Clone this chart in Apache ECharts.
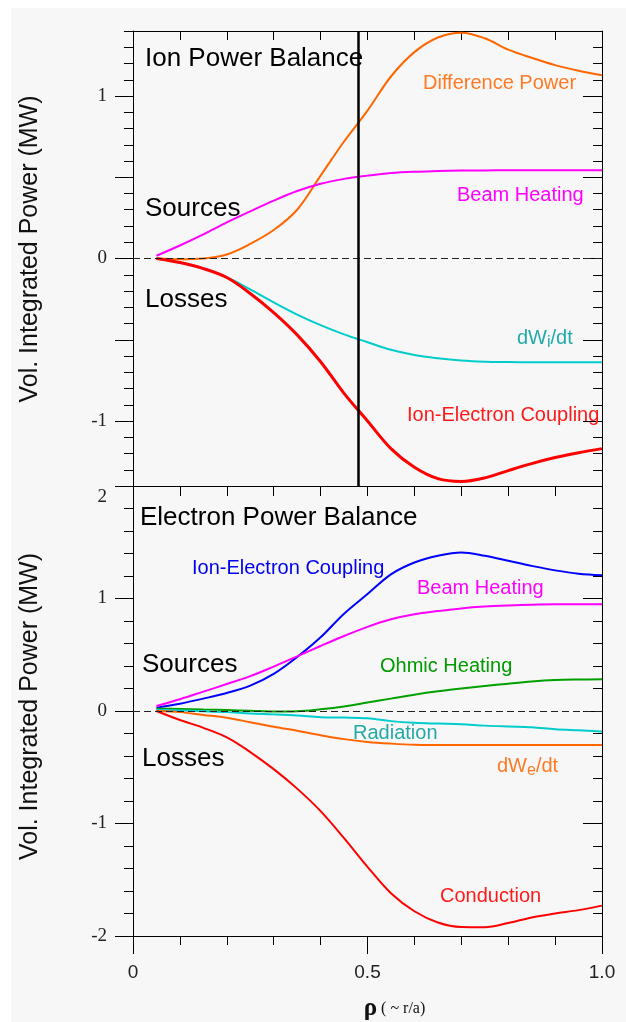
<!DOCTYPE html>
<html>
<head>
<meta charset="utf-8">
<title>Ion / Electron Power Balance</title>
<script src="https://cdn.jsdelivr.net/npm/echarts@6/dist/echarts.min.js"></script>
<style>
html, body { margin: 0; padding: 0; background: #fff; }
#chart {
  width: 626px;
  height: 1022px;
  background:
    linear-gradient(#fff, #fff) top left / 100% 8px no-repeat,
    linear-gradient(#fff, #fff) top left / 11px 100% no-repeat,
    #f7f7f7;
}
</style>
</head>
<body>
<div id="chart"></div>
<script>
// normalised radius, shared by every curve
const rho = [0.05, 0.1, 0.15, 0.2, 0.25, 0.3, 0.35, 0.4, 0.45, 0.5,
  0.55, 0.6, 0.65, 0.7, 0.75, 0.8, 0.85, 0.9, 0.95, 1.0];

// ion power balance (MW)
const ionDifference = [0, -0.005, 0, 0.025, 0.09, 0.175, 0.3, 0.51, 0.72, 0.91,
  1.12, 1.27, 1.36, 1.39, 1.355, 1.285, 1.235, 1.19, 1.156, 1.128];
const ionBeam = [0.017, 0.08, 0.148, 0.222, 0.29, 0.356, 0.415, 0.46, 0.49, 0.51,
  0.526, 0.534, 0.538, 0.541, 0.542, 0.543, 0.543, 0.543, 0.543, 0.543];
const ionDWdt = [0, -0.025, -0.06, -0.115, -0.19, -0.27, -0.345, -0.41, -0.467, -0.515,
  -0.562, -0.594, -0.614, -0.628, -0.635, -0.637, -0.638, -0.638, -0.638, -0.638];
const ionCoupling = [0, -0.025, -0.062, -0.117, -0.215, -0.333, -0.47, -0.635, -0.83, -1.0,
  -1.17, -1.285, -1.355, -1.372, -1.35, -1.305, -1.262, -1.225, -1.195, -1.17];

// electron power balance (MW)
const eleCoupling = [0.03, 0.065, 0.11, 0.16, 0.225, 0.33, 0.48, 0.655, 0.865, 1.04,
  1.215, 1.32, 1.38, 1.41, 1.38, 1.335, 1.29, 1.25, 1.22, 1.206];
const eleBeam = [0.044, 0.105, 0.172, 0.24, 0.31, 0.395, 0.485, 0.578, 0.667, 0.748,
  0.815, 0.86, 0.888, 0.912, 0.928, 0.938, 0.945, 0.948, 0.948, 0.948];
const eleOhmic = [0.02, 0.018, 0.013, 0.008, 0.002, -0.005, -0.002, 0.015, 0.04, 0.075,
  0.11, 0.145, 0.175, 0.2, 0.222, 0.243, 0.262, 0.275, 0.28, 0.282];
const eleRadiation = [0.01, 0.005, -0.002, -0.01, -0.022, -0.03, -0.04, -0.055, -0.058, -0.065,
  -0.09, -0.105, -0.112, -0.118, -0.13, -0.138, -0.145, -0.162, -0.172, -0.182];
const eleDWdt = [0, -0.01, -0.035, -0.06, -0.1, -0.14, -0.175, -0.215, -0.25, -0.275,
  -0.29, -0.3, -0.302, -0.303, -0.303, -0.303, -0.303, -0.303, -0.303, -0.303];
const eleConduction = [0, -0.08, -0.15, -0.235, -0.365, -0.517, -0.69, -0.89, -1.13, -1.385,
  -1.62, -1.78, -1.88, -1.92, -1.922, -1.885, -1.835, -1.8, -1.77, -1.73];

// ticks and labels
const xLabelText = { 0: '0', 0.5: '0.5', 1: '1.0' };
const ionMajorTicks = [-1, -0.5, 0, 0.5, 1];
const ionTickLabels = [-1, 0, 1];
const cursorRho = 0.482;

const SANS = 'Liberation Sans, Arial, sans-serif';
const SERIF = 'Liberation Serif, Times New Roman, serif';

const pairs = (vals) => rho.map((r, i) => [r, vals[i]]);

const black = { color: '#000', width: 1 };
const hidden = { show: false };

// 轴的通用部分
const baseAxis = (extra) => Object.assign({
  type: 'value',
  axisLine: { show: true, onZero: false, lineStyle: black },
  axisTick: hidden,
  minorTick: hidden,
  axisLabel: hidden,
  splitLine: hidden,
  minorSplitLine: hidden
}, extra);

const xAxes = [
  // top panel, bottom edge (series axis)
  baseAxis({ gridIndex: 0, position: 'bottom', min: 0, max: 1 }),
  // top panel, top edge
  baseAxis({ gridIndex: 0, position: 'top', min: 0, max: 1, interval: 0.1,
    axisTick: { show: true, inside: true, length: 9, lineStyle: black } }),
  // bottom panel, bottom edge (series axis)
  baseAxis({ gridIndex: 1, position: 'bottom', min: 0, max: 1, interval: 0.5,
    axisTick: { show: true, length: 18, lineStyle: black },
    minorTick: { show: true, splitNumber: 5, length: 9, lineStyle: black },
    axisLabel: {
      show: true, margin: 27, color: '#222', fontFamily: SANS, fontSize: 19,
      formatter: (v) => xLabelText[v] !== undefined ? xLabelText[v] : ''
    },
    name: '{r|ρ}{t| ( ~ r/a)}',
    nameLocation: 'middle',
    nameGap: 60,
    nameTextStyle: {
      padding: [0, 0, 0, 54],
      rich: {
        r: { fontFamily: SERIF, fontSize: 25, fontWeight: 'bold', color: '#111' },
        t: { fontFamily: SERIF, fontSize: 16, color: '#111' }
      }
    }
  }),
  // bottom panel, top edge
  baseAxis({ gridIndex: 1, position: 'top', min: 0, max: 1, interval: 0.1,
    axisTick: { show: true, inside: true, length: 10, lineStyle: black } })
];

const yName = (shift) => ({
  name: 'Vol. Integrated Power (MW)',
  nameLocation: 'middle',
  nameGap: 90,
  nameTextStyle: { fontFamily: SANS, fontSize: 25, color: '#111', padding: [0, 0, 0, shift] }
});

const yAxes = [
  // 0: top panel left, short ticks, series axis
  baseAxis(Object.assign({ gridIndex: 0, position: 'left', min: -1.4, max: 1.4, interval: 0.1,
    axisTick: { show: true, length: 9, lineStyle: black } }, yName(19))),
  // 1: top panel left, long ticks + labels
  baseAxis({ gridIndex: 0, position: 'left', min: -1.4, max: 1.4,
    axisLine: { show: false, onZero: false },
    axisTick: { show: true, length: 18, lineStyle: black, customValues: ionMajorTicks },
    axisLabel: { show: true, margin: 26, color: '#222', fontFamily: SERIF, fontSize: 19,
      customValues: ionTickLabels } }),
  // 2: top panel right, short ticks
  baseAxis({ gridIndex: 0, position: 'right', min: -1.4, max: 1.4, interval: 0.1,
    axisTick: { show: true, inside: true, length: 9, lineStyle: black } }),
  // 3: top panel right, long ticks
  baseAxis({ gridIndex: 0, position: 'right', min: -1.4, max: 1.4,
    axisLine: { show: false, onZero: false },
    axisTick: { show: true, inside: true, length: 19, lineStyle: black, customValues: ionMajorTicks } }),
  // 4: bottom panel left, series axis
  baseAxis(Object.assign({ gridIndex: 1, position: 'left', min: -2, max: 2, interval: 1,
    axisTick: { show: true, length: 18, lineStyle: black },
    minorTick: { show: true, splitNumber: 5, length: 9, lineStyle: black },
    axisLabel: { show: true, margin: 26, color: '#222', fontFamily: SERIF, fontSize: 19,
      formatter: (v) => v === 2 ? '{low|2}' : String(v),
      rich: { low: { padding: [22, 0, 0, 0], fontFamily: SERIF, fontSize: 19, color: '#222' } } }
  }, yName(9))),
  // 5: bottom panel right
  baseAxis({ gridIndex: 1, position: 'right', min: -2, max: 2, interval: 1,
    axisTick: { show: true, inside: true, length: 19, lineStyle: black },
    minorTick: { show: true, splitNumber: 5, length: 9, lineStyle: black } })
];

const line = (name, vals, color, width, xi, yi, extra) => Object.assign({
  name: name,
  type: 'line',
  xAxisIndex: xi,
  yAxisIndex: yi,
  data: pairs(vals),
  smooth: 0.35,
  showSymbol: false,
  symbol: 'none',
  lineStyle: { color: color, width: width },
  itemStyle: { color: color },
  z: 3
}, extra);

const zeroLine = { yAxis: 0, lineStyle: { color: '#222', width: 1, type: [7, 4] } };
const markBase = { silent: true, symbol: 'none', label: hidden, animation: false };

const series = [
  line('Difference Power', ionDifference, '#ff6600', 2, 0, 0, {
    markLine: Object.assign({}, markBase, {
      data: [zeroLine, { xAxis: cursorRho, lineStyle: { color: '#000', width: 2.5, type: 'solid' } }]
    })
  }),
  line('Beam Heating', ionBeam, '#ff00ff', 2, 0, 0),
  line('dWi/dt', ionDWdt, '#00cccc', 2, 0, 0),
  line('Ion-Electron Coupling', ionCoupling, '#ff0000', 3, 0, 0),

  line('Ion-Electron Coupling', eleCoupling, '#0000ff', 2, 2, 4, {
    markLine: Object.assign({}, markBase, { data: [zeroLine] })
  }),
  line('Beam Heating', eleBeam, '#ff00ff', 2, 2, 4),
  line('Ohmic Heating', eleOhmic, '#00a000', 2, 2, 4),
  line('Radiation', eleRadiation, '#00cccc', 2, 2, 4),
  line('dWe/dt', eleDWdt, '#ff6600', 2, 2, 4),
  line('Conduction', eleConduction, '#ff0000', 2, 2, 4)
];

// 图中的文字标注
const note = (text, x, y, color, size, rich) => ({
  type: 'text',
  x: x,
  y: y,
  silent: true,
  z: 10,
  style: {
    text: text,
    fill: color,
    font: size + 'px ' + SANS,
    align: 'left',
    verticalAlign: 'middle',
    rich: rich
  }
});

const subRich = (color) => ({
  n: { fontSize: 20, fontFamily: SANS, color: color },
  s: { fontSize: 16, fontFamily: SANS, color: color, padding: [9, 0, 0, 0] }
});

const graphic = [
  note('Ion Power Balance', 145, 59, '#000', 26),
  note('Difference Power', 423, 83, '#ff7a22', 20),
  note('Beam Heating', 457, 195, '#ff00ff', 20),
  note('Sources', 145, 209, '#000', 26),
  note('Losses', 145, 300, '#000', 26),
  note('{n|dW}{s|i}{n|/dt}', 517, 338, '#22aaaa', 20, subRich('#22aaaa')),
  note('Ion-Electron Coupling', 407, 415, '#ff1a1a', 20),

  note('Electron Power Balance', 140, 518, '#000', 26),
  note('Ion-Electron Coupling', 192, 568, '#0000ee', 20),
  note('Beam Heating', 417, 588, '#ff00ff', 20),
  note('Sources', 142, 665, '#000', 26),
  note('Ohmic Heating', 380, 666, '#009900', 20),
  note('Radiation', 353, 733, '#22aaaa', 20),
  note('Losses', 142, 759, '#000', 26),
  note('{n|dW}{s|e}{n|/dt}', 497, 766, '#ff7a22', 20, subRich('#ff7a22')),
  note('Conduction', 440, 896, '#ff1a1a', 20)
];

const chart = echarts.init(document.getElementById('chart'));
chart.setOption({
  backgroundColor: 'transparent',
  animation: false,
  grid: [
    { left: 133, top: 31, width: 469, height: 455 },
    { left: 133, top: 486, width: 469, height: 451 }
  ],
  xAxis: xAxes,
  yAxis: yAxes,
  series: series,
  graphic: graphic
});
</script>
</body>
</html>
